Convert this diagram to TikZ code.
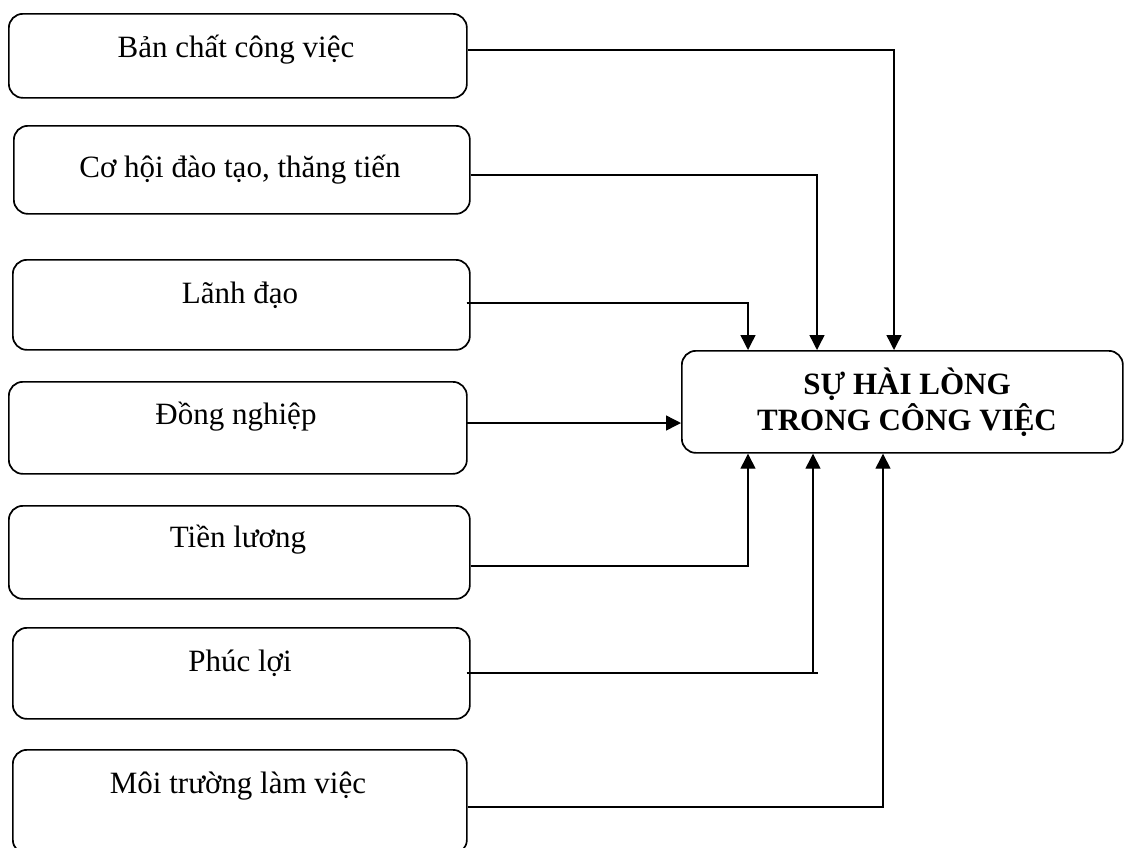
\documentclass[tikz,border=0pt]{standalone}
\usepackage{fontspec}
\setmainfont{Liberation Serif}
\usetikzlibrary{arrows.meta}
\begin{document}
\begin{tikzpicture}[x=1pt,y=-1pt,
  box/.style={draw, line width=1.7pt, rounded corners=14pt, anchor=north west, inner sep=0pt},
  lbl/.style={anchor=base, inner sep=0pt, font=\fontsize{31}{36}\selectfont},
  blbl/.style={anchor=base, inner sep=0pt, font=\fontsize{31}{36}\selectfont\bfseries},
  conn/.style={line width=1.4pt},
  heavy/.style={line width=2.8pt},
  tip/.style={-{Triangle[length=15pt,width=15pt]}}
]
\useasboundingbox (0,0) rectangle (1124,847);
\clip (0,0) rectangle (1124,847);

% left boxes
\node[box, minimum width=458pt, minimum height=84pt] (b1) at (8,13) {};
\node[box, minimum width=456pt, minimum height=88pt] (b2) at (13,125) {};
\node[box, minimum width=457pt, minimum height=90pt] (b3) at (12,259) {};
\node[box, minimum width=458pt, minimum height=92pt] (b4) at (8,381) {};
\node[box, minimum width=461pt, minimum height=93pt] (b5) at (8,505) {};
\node[box, minimum width=457pt, minimum height=91pt] (b6) at (12,627) {};
\node[box, minimum width=454pt, minimum height=104pt] (b7) at (12,749) {};

% right box
\node[box, minimum width=441pt, minimum height=102pt] (R) at (681,350) {};

% texts
\node[lbl] (t1) at (236,57) {Bản chất công việc};
\node[lbl] (t2) at (240,177) {Cơ hội đào tạo, thăng tiến};
\node[lbl] (t3) at (240,303) {Lãnh đạo};
\node[lbl] (t4) at (236,424) {Đồng nghiệp};
\node[lbl] (t5) at (238,547) {Tiền lương};
\node[lbl] (t6) at (240,671) {Phúc lợi};
\node[lbl] (t7) at (238,793) {Môi trường làm việc};
\node[blbl] (r1) at (907,394) {SỰ HÀI LÒNG};
\node[blbl] (r2) at (907,430) {TRONG CÔNG VIỆC};

% corner points of connectors
\coordinate (k1) at (894,50);
\coordinate (k2) at (817,175);
\coordinate (k3) at (748,303);
\coordinate (k4) at (0,423);
\coordinate (k5) at (748,566);
\coordinate (k6) at (813,673);
\coordinate (k6e) at (818,673);
\coordinate (k7) at (883,807);

% connectors
\draw[conn, tip] (b1.east |- k1) -| (R.north -| k1);
\draw[conn, tip] (b2.east |- k2) -| (R.north -| k2);
\draw[heavy] (b2.east |- k2) -- (k2);
\draw[conn, tip] ([xshift=-4pt]b3.east |- k3) -| (R.north -| k3);
\draw[heavy] ([xshift=-4pt]b3.east |- k3) -- (k3);
\draw[conn, tip] ([xshift=-1pt]b4.east |- k4) -- (R.west |- k4);
\draw[conn, tip] (b5.east |- k5) -| (R.south -| k5);
\draw[heavy] (b5.east |- k5) -- (k5);
\draw[conn, tip] (k6) -- (R.south -| k6);
\draw[heavy] ([xshift=-4pt]b6.east |- k6) -- (k6e);
\draw[conn, tip] (b7.east |- k7) -| (R.south -| k7);
\end{tikzpicture}
\end{document}
